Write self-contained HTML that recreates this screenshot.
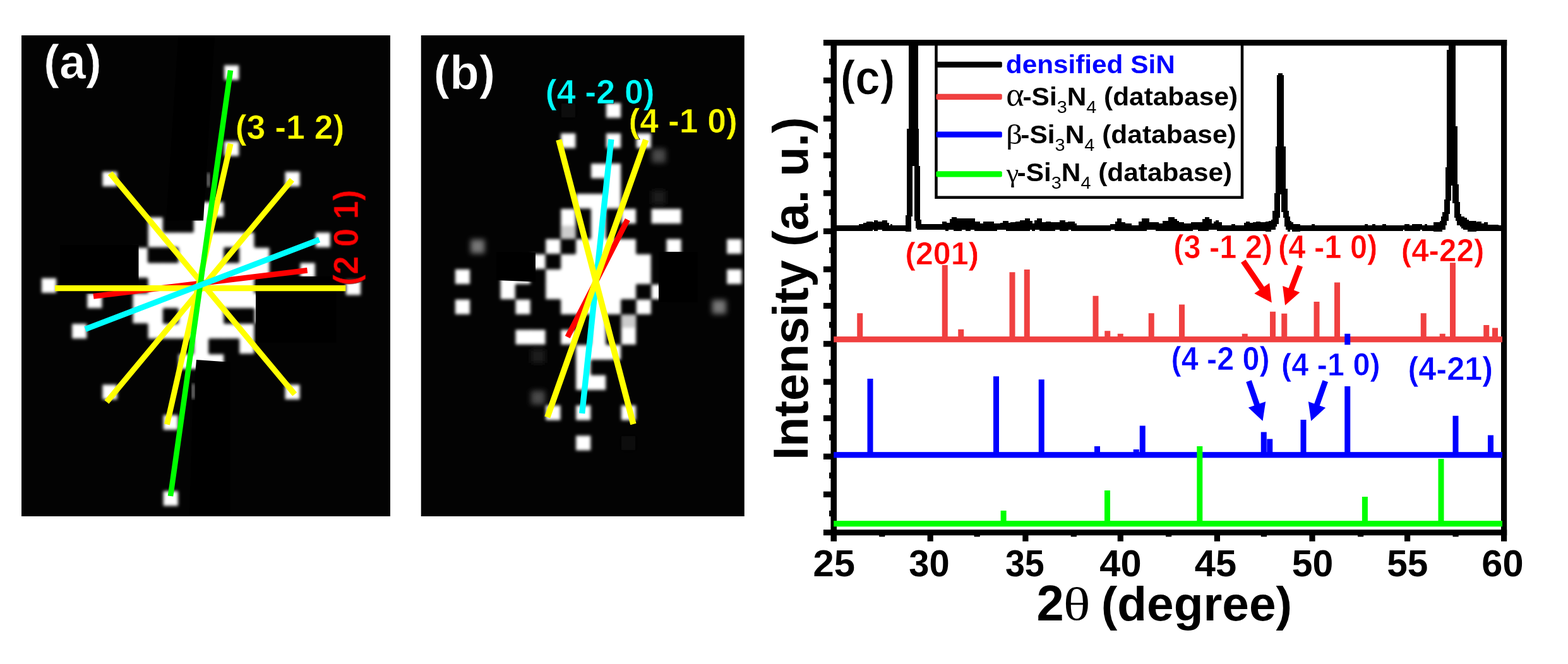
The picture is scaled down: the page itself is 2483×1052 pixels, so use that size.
<!DOCTYPE html>
<html><head><meta charset="utf-8"><title>Figure</title>
<style>html,body{margin:0;padding:0;background:#fff;overflow:hidden}svg{display:block}</style></head>
<body><svg width="2483" height="1052" viewBox="0 0 2483 1052">
<rect width="2483" height="1052" fill="#fff"/>
<defs><filter id="bl" x="-5%" y="-5%" width="110%" height="110%"><feGaussianBlur stdDeviation="2.7"/></filter><filter id="bt" x="-5%" y="-5%" width="110%" height="110%"><feGaussianBlur stdDeviation="0.7"/></filter><filter id="bd" x="-5%" y="-5%" width="110%" height="110%"><feGaussianBlur stdDeviation="4.5"/></filter><clipPath id="ca"><rect x="34" y="56" width="584" height="762"/></clipPath><clipPath id="cb"><rect x="666.75" y="56" width="512" height="762"/></clipPath></defs>
<g id="panelA">
<rect x="34" y="56" width="584" height="762" fill="#030303"/>
<g clip-path="url(#ca)"><g fill="#fff" filter="url(#bl)"><rect x="355.1" y="103.4" width="23.2" height="23.2"/><rect x="355.1" y="223.9" width="23.2" height="23.2"/><rect x="162.3" y="272.1" width="23.2" height="23.2"/><rect x="451.5" y="272.1" width="23.2" height="23.2"/><rect x="499.7" y="368.5" width="23.2" height="23.2"/><rect x="475.6" y="416.7" width="23.2" height="23.2"/><rect x="65.9" y="440.8" width="23.2" height="23.2"/><rect x="547.9" y="444.2" width="23.2" height="23.2"/><rect x="138.2" y="464.9" width="23.2" height="23.2"/><rect x="114.1" y="513.1" width="23.2" height="23.2"/><rect x="162.3" y="609.5" width="23.2" height="23.2"/><rect x="451.5" y="609.5" width="23.2" height="23.2"/><rect x="258.7" y="657.7" width="23.2" height="23.2"/><rect x="258.7" y="778.2" width="23.2" height="23.2"/><rect x="282.8" y="320.3" width="24.3" height="23.2"/><rect x="305.8" y="320.3" width="25.3" height="24.3"/><rect x="329.9" y="320.3" width="24.3" height="23.2"/><rect x="234.6" y="344.4" width="23.2" height="24.3"/><rect x="306.9" y="343.3" width="23.2" height="25.3"/><rect x="234.6" y="367.4" width="24.2" height="24.3"/><rect x="257.6" y="368.5" width="25.3" height="23.2"/><rect x="281.7" y="368.5" width="25.3" height="24.3"/><rect x="305.8" y="367.4" width="25.3" height="25.3"/><rect x="329.9" y="368.5" width="25.3" height="24.3"/><rect x="354.1" y="368.5" width="25.3" height="23.2"/><rect x="378.1" y="368.5" width="24.3" height="24.3"/><rect x="210.5" y="392.6" width="23.2" height="24.3"/><rect x="282.8" y="391.6" width="24.3" height="25.3"/><rect x="305.8" y="391.6" width="25.3" height="25.3"/><rect x="329.9" y="391.6" width="24.3" height="25.3"/><rect x="379.2" y="391.6" width="24.3" height="25.3"/><rect x="402.2" y="392.6" width="24.3" height="24.3"/><rect x="210.5" y="415.6" width="24.2" height="24.3"/><rect x="233.6" y="416.7" width="25.3" height="24.3"/><rect x="257.6" y="416.7" width="25.3" height="24.3"/><rect x="281.7" y="415.6" width="25.3" height="25.3"/><rect x="305.8" y="415.6" width="25.3" height="25.3"/><rect x="329.9" y="415.6" width="25.3" height="25.3"/><rect x="354.1" y="416.7" width="25.3" height="24.3"/><rect x="378.1" y="415.6" width="25.3" height="25.3"/><rect x="402.2" y="415.6" width="24.3" height="24.3"/><rect x="234.6" y="439.8" width="24.2" height="25.3"/><rect x="257.6" y="439.8" width="25.3" height="25.3"/><rect x="281.7" y="439.8" width="25.3" height="25.3"/><rect x="305.8" y="439.8" width="25.3" height="25.3"/><rect x="329.9" y="439.8" width="25.3" height="25.3"/><rect x="354.1" y="439.8" width="25.3" height="25.3"/><rect x="378.1" y="439.8" width="24.3" height="25.3"/><rect x="210.5" y="464.9" width="24.2" height="24.3"/><rect x="233.6" y="463.8" width="25.3" height="25.3"/><rect x="257.6" y="463.8" width="25.3" height="24.3"/><rect x="281.7" y="463.8" width="25.3" height="25.3"/><rect x="305.8" y="463.8" width="25.3" height="25.3"/><rect x="329.9" y="463.8" width="25.3" height="25.3"/><rect x="354.1" y="463.8" width="25.3" height="24.3"/><rect x="378.1" y="463.8" width="25.3" height="24.3"/><rect x="402.2" y="464.9" width="24.3" height="24.3"/><rect x="210.5" y="487.9" width="24.2" height="24.3"/><rect x="233.6" y="487.9" width="24.2" height="25.3"/><rect x="282.8" y="487.9" width="24.3" height="25.3"/><rect x="305.8" y="487.9" width="25.3" height="25.3"/><rect x="329.9" y="487.9" width="24.3" height="25.3"/><rect x="403.3" y="487.9" width="23.2" height="24.3"/><rect x="234.6" y="512.1" width="24.2" height="24.2"/><rect x="257.6" y="513.1" width="25.3" height="23.2"/><rect x="281.7" y="512.1" width="25.3" height="24.2"/><rect x="305.8" y="512.1" width="25.3" height="25.3"/><rect x="329.9" y="512.1" width="25.3" height="24.2"/><rect x="354.1" y="513.1" width="25.3" height="23.2"/><rect x="378.1" y="513.1" width="24.3" height="24.2"/><rect x="306.9" y="536.1" width="23.2" height="25.3"/><rect x="379.2" y="536.1" width="23.2" height="24.2"/><rect x="282.8" y="561.3" width="24.3" height="23.2"/><rect x="305.8" y="560.3" width="25.3" height="24.2"/><rect x="329.9" y="561.3" width="24.3" height="23.2"/></g>
<g fill="#000">
<polygon points="282.5,55 340,57 322,349.5 263,349.5"/>
<rect x="95" y="388" width="124.5" height="77"/>
<rect x="405" y="438" width="127.5" height="105"/>
<polygon points="311,570 353,573 365,573 365,817 300,817 305,640"/>
</g>
<rect x="328" y="274" width="4" height="22" fill="#999" filter="url(#bl)"/>
<rect x="304" y="608" width="4" height="24" fill="#999" filter="url(#bl)"/>
</g>
<g filter="url(#bt)">
<line x1="486.6" y1="428.3" x2="148" y2="469.3" stroke="#f00" stroke-width="8.8"/>
<line x1="87.1" y1="456.7" x2="547.4" y2="456.7" stroke="#ff0" stroke-width="9.3"/>
<line x1="174.5" y1="274.5" x2="466.7" y2="624.7" stroke="#ff0" stroke-width="9"/>
<line x1="462.4" y1="284.9" x2="168.9" y2="636.8" stroke="#ff0" stroke-width="9"/>
<line x1="365.1" y1="227.8" x2="264.5" y2="672.5" stroke="#ff0" stroke-width="9"/>
<line x1="365" y1="111.5" x2="270" y2="786" stroke="#0f0" stroke-width="8.6"/>
<line x1="505.6" y1="379.8" x2="135" y2="521.5" stroke="#0ff" stroke-width="9"/>
</g>
<text transform="translate(68.88,124.25) scale(0.9941,1)" font-size="75.76" font-family="Liberation Sans, sans-serif" font-weight="bold" stroke="#030303" stroke-width="0.013em" fill="#fff" filter="url(#bt)">(a)</text>
<text transform="translate(372.79,219.79) scale(1.0001,1)" font-size="53.53" font-family="Liberation Sans, sans-serif" font-weight="bold" stroke="#030303" stroke-width="0.013em" fill="#ff0" filter="url(#bt)">(3 -1 2)</text>
<text transform="translate(527.5,449.2) rotate(-90) translate(-3.15,39.37) scale(0.9601,1)" font-size="54.67" font-family="Liberation Sans, sans-serif" font-weight="bold" stroke="#030303" stroke-width="0.013em" fill="#f00" filter="url(#bt)">(2 0 1)</text>
</g>
<g id="panelB">
<rect x="666.75" y="56" width="512" height="762" fill="#030303"/>
<g clip-path="url(#cb)"><g filter="url(#bd)"><rect x="1032.2" y="235.8" width="22" height="22" fill="#484848"/><rect x="841.0" y="619.0" width="22" height="22" fill="#484848"/><rect x="745.4" y="379.5" width="22" height="22" fill="#777"/><rect x="1127.8" y="475.3" width="22" height="22" fill="#777"/><rect x="1032.2" y="301.7" width="22" height="22" fill="#1c1c1c"/><rect x="841.0" y="553.2" width="22" height="22" fill="#1c1c1c"/><rect x="888.8" y="164.0" width="22" height="22" fill="#0d0d0d"/><rect x="984.4" y="690.9" width="22" height="22" fill="#0d0d0d"/></g></g>
<g clip-path="url(#cb)"><g fill="#fff" filter="url(#bl)"><rect x="959.9" y="163.4" width="23.2" height="23.2"/><rect x="888.2" y="211.3" width="23.2" height="23.2"/><rect x="959.9" y="211.3" width="23.2" height="23.2"/><rect x="1007.7" y="211.3" width="23.2" height="23.2"/><rect x="936.0" y="259.2" width="24.2" height="23.2"/><rect x="958.9" y="259.2" width="24.2" height="24.2"/><rect x="959.9" y="282.2" width="23.2" height="25.1"/><rect x="912.1" y="307.1" width="24.2" height="23.2"/><rect x="935.0" y="307.1" width="25.1" height="24.2"/><rect x="958.9" y="306.1" width="24.2" height="24.2"/><rect x="888.2" y="331.0" width="23.2" height="24.2"/><rect x="936.0" y="330.1" width="23.2" height="25.1"/><rect x="983.8" y="331.0" width="23.2" height="23.2"/><rect x="1031.6" y="331.0" width="24.1" height="23.2"/><rect x="1054.5" y="331.0" width="24.1" height="23.2"/><rect x="888.2" y="354.1" width="23.2" height="24.2"/><rect x="936.0" y="354.1" width="23.2" height="25.1"/><rect x="864.3" y="378.9" width="23.2" height="23.2"/><rect x="912.1" y="378.9" width="24.2" height="24.2"/><rect x="935.0" y="378.0" width="25.1" height="25.1"/><rect x="958.9" y="378.9" width="25.1" height="24.2"/><rect x="982.8" y="378.9" width="24.2" height="24.2"/><rect x="1055.5" y="378.9" width="23.2" height="23.2"/><rect x="1151.1" y="378.9" width="23.2" height="23.2"/><rect x="840.4" y="402.9" width="23.2" height="23.2"/><rect x="888.2" y="402.9" width="24.2" height="24.2"/><rect x="911.1" y="401.9" width="25.1" height="25.1"/><rect x="935.0" y="401.9" width="25.1" height="25.1"/><rect x="958.9" y="401.9" width="25.1" height="25.1"/><rect x="982.8" y="401.9" width="25.1" height="25.1"/><rect x="1006.7" y="402.9" width="24.1" height="24.2"/><rect x="720.9" y="426.8" width="23.2" height="23.2"/><rect x="792.6" y="426.8" width="24.2" height="24.2"/><rect x="815.5" y="426.8" width="24.2" height="23.2"/><rect x="864.3" y="426.8" width="24.2" height="24.2"/><rect x="887.2" y="425.9" width="25.1" height="25.1"/><rect x="911.1" y="425.9" width="25.1" height="25.1"/><rect x="935.0" y="425.9" width="25.1" height="25.1"/><rect x="958.9" y="425.9" width="25.1" height="25.1"/><rect x="982.8" y="425.9" width="25.1" height="25.1"/><rect x="1006.7" y="425.9" width="24.1" height="24.2"/><rect x="1151.1" y="426.8" width="23.2" height="23.2"/><rect x="792.6" y="449.8" width="23.2" height="24.2"/><rect x="864.3" y="449.8" width="24.2" height="24.2"/><rect x="887.2" y="449.8" width="25.1" height="25.1"/><rect x="911.1" y="449.8" width="25.1" height="25.1"/><rect x="935.0" y="449.8" width="25.1" height="25.1"/><rect x="958.9" y="449.8" width="25.1" height="25.1"/><rect x="982.8" y="449.8" width="24.2" height="24.2"/><rect x="1031.6" y="450.8" width="23.2" height="23.2"/><rect x="720.9" y="474.7" width="23.2" height="23.2"/><rect x="816.5" y="474.7" width="23.2" height="23.2"/><rect x="888.2" y="473.8" width="24.2" height="24.2"/><rect x="911.1" y="473.8" width="25.1" height="24.2"/><rect x="935.0" y="473.8" width="25.1" height="25.1"/><rect x="958.9" y="473.8" width="24.2" height="24.2"/><rect x="1007.7" y="474.7" width="23.2" height="23.2"/><rect x="936.0" y="497.8" width="23.2" height="25.1"/><rect x="983.8" y="498.7" width="23.2" height="24.2"/><rect x="816.5" y="522.6" width="24.2" height="23.2"/><rect x="839.4" y="522.6" width="24.2" height="23.2"/><rect x="888.2" y="522.6" width="23.2" height="23.2"/><rect x="936.0" y="521.7" width="23.2" height="25.1"/><rect x="983.8" y="521.7" width="23.2" height="24.2"/><rect x="912.1" y="546.6" width="24.2" height="24.2"/><rect x="935.0" y="545.6" width="25.1" height="24.2"/><rect x="958.9" y="546.6" width="24.2" height="23.2"/><rect x="912.1" y="569.6" width="23.2" height="25.1"/><rect x="912.1" y="593.5" width="24.2" height="24.2"/><rect x="935.0" y="594.5" width="24.2" height="23.2"/><rect x="864.3" y="642.4" width="23.2" height="23.2"/><rect x="912.1" y="642.4" width="23.2" height="23.2"/><rect x="983.8" y="642.4" width="23.2" height="23.2"/><rect x="912.1" y="690.3" width="23.2" height="23.2"/></g>
<g fill="#000" fill-opacity="0.2" filter="url(#bl)"><rect x="887.8" y="357.6" width="24" height="21"/><rect x="983.4" y="498.3" width="24" height="21"/></g>
<g fill="#000">
<rect x="1043" y="399" width="62" height="80"/>
<polygon points="786,399 848,400 848,446.4 786,443.9"/>
</g>
</g>
<g filter="url(#bt)">
<line x1="993.75" y1="348" x2="898.75" y2="534" stroke="#f00" stroke-width="8.8"/>
<line x1="967.9" y1="220.7" x2="921.7" y2="655.1" stroke="#0ff" stroke-width="9.3"/>
<line x1="884.9" y1="221.5" x2="1002.9" y2="672" stroke="#ff0" stroke-width="9.5"/>
<line x1="1022.7" y1="221.5" x2="866.8" y2="661" stroke="#ff0" stroke-width="9.5"/>
</g>
<text transform="translate(686.40,140.78) scale(1.0084,1)" font-size="76.09" font-family="Liberation Sans, sans-serif" font-weight="bold" stroke="#030303" stroke-width="0.013em" fill="#fff" filter="url(#bt)">(b)</text>
<text transform="translate(863.78,163.54) scale(1.0016,1)" font-size="53.53" font-family="Liberation Sans, sans-serif" font-weight="bold" stroke="#030303" stroke-width="0.013em" fill="#0ff" filter="url(#bt)">(4 -2 0)</text>
<text transform="translate(995.54,209.90) scale(1.0088,1)" font-size="52.99" font-family="Liberation Sans, sans-serif" font-weight="bold" stroke="#030303" stroke-width="0.013em" fill="#ff0" filter="url(#bt)">(4 -1 0)</text>
</g>
<g id="chartC">
<rect x="1482.5" y="67.75" width="484.5" height="245.0" fill="none" stroke="#000" stroke-width="4.5"/>
<g fill="#000"><rect x="1315.5" y="63" width="9.5" height="794.7"/><rect x="2377" y="63" width="9.2" height="794.7"/><rect x="1303.9" y="63" width="1082.3" height="9.3"/><rect x="1303.9" y="839.1" width="1082.3" height="9.15"/><rect x="1303.9" y="122.80" width="14" height="9.3"/><rect x="1303.9" y="183.25" width="14" height="9.3"/><rect x="1303.9" y="241.40" width="14" height="9.3"/><rect x="1303.9" y="301.35" width="14" height="9.3"/><rect x="1303.9" y="361.75" width="14" height="9.3"/><rect x="1303.9" y="422.05" width="14" height="9.3"/><rect x="1303.9" y="479.85" width="14" height="9.3"/><rect x="1303.9" y="540.15" width="14" height="9.3"/><rect x="1303.9" y="600.35" width="14" height="9.3"/><rect x="1303.9" y="657.95" width="14" height="9.3"/><rect x="1303.9" y="718.65" width="14" height="9.3"/><rect x="1303.9" y="778.65" width="14" height="9.3"/><rect x="1313" y="92.95" width="5" height="9.3"/><rect x="1313" y="153.25" width="5" height="9.3"/><rect x="1313" y="211.15" width="5" height="9.3"/><rect x="1313" y="271.25" width="5" height="9.3"/><rect x="1313" y="331.35" width="5" height="9.3"/><rect x="1313" y="391.75" width="5" height="9.3"/><rect x="1313" y="449.65" width="5" height="9.3"/><rect x="1313" y="510.05" width="5" height="9.3"/><rect x="1313" y="570.15" width="5" height="9.3"/><rect x="1313" y="630.35" width="5" height="9.3"/><rect x="1313" y="688.35" width="5" height="9.3"/><rect x="1313" y="748.65" width="5" height="9.3"/><rect x="1313" y="808.85" width="5" height="9.3"/><rect x="1468.60" y="845" width="9.2" height="12.7"/><rect x="1619.30" y="845" width="9.2" height="12.7"/><rect x="1769.70" y="845" width="9.2" height="12.7"/><rect x="1922.80" y="845" width="9.2" height="12.7"/><rect x="2073.40" y="845" width="9.2" height="12.7"/><rect x="2224.00" y="845" width="9.2" height="12.7"/><rect x="1392.15" y="845" width="9.2" height="5.4"/><rect x="1542.60" y="845" width="9.2" height="5.4"/><rect x="1695.70" y="845" width="9.2" height="5.4"/><rect x="1846.00" y="845" width="9.2" height="5.4"/><rect x="1996.80" y="845" width="9.2" height="5.4"/><rect x="2150.00" y="845" width="9.2" height="5.4"/><rect x="2300.50" y="845" width="9.2" height="5.4"/></g>
<g fill="#f04040"><rect x="1320.2" y="533.1" width="1058.8" height="9.2"/><rect x="1357.25" y="496.25" width="9" height="41.450000000000045"/><rect x="1491.75" y="420" width="9" height="117.70000000000005"/><rect x="1517.25" y="521.75" width="9" height="15.950000000000045"/><rect x="1598.50" y="431.25" width="9" height="106.45000000000005"/><rect x="1621.75" y="427" width="9" height="110.70000000000005"/><rect x="1730.50" y="468.75" width="9" height="68.95000000000005"/><rect x="1749.25" y="524.25" width="9" height="13.450000000000045"/><rect x="1769.75" y="528.75" width="9" height="8.950000000000045"/><rect x="1818.75" y="496.25" width="9" height="41.450000000000045"/><rect x="1867.00" y="482.5" width="9" height="55.200000000000045"/><rect x="1966.75" y="528.75" width="9" height="8.950000000000045"/><rect x="2011.00" y="493.75" width="9" height="43.950000000000045"/><rect x="2029.25" y="496.75" width="9" height="40.950000000000045"/><rect x="2080.50" y="478" width="9" height="59.700000000000045"/><rect x="2113.00" y="447.5" width="9" height="90.20000000000005"/><rect x="2249.75" y="496.25" width="9" height="41.450000000000045"/><rect x="2279.75" y="528.75" width="9" height="8.950000000000045"/><rect x="2296.00" y="416.25" width="9" height="121.45000000000005"/><rect x="2349.25" y="515" width="9" height="22.700000000000045"/><rect x="2363.00" y="519.5" width="9" height="18.200000000000045"/></g>
<g fill="#0000ff"><rect x="1320.2" y="716.15" width="1058.8" height="9.2"/><rect x="1373.50" y="600" width="9" height="120.75"/><rect x="1573.00" y="596.25" width="9" height="124.5"/><rect x="1644.75" y="601.25" width="9" height="119.5"/><rect x="1733.00" y="707" width="9" height="13.75"/><rect x="1794.75" y="712" width="9" height="8.75"/><rect x="1804.75" y="674.5" width="9" height="46.25"/><rect x="1996.75" y="684.5" width="9" height="36.25"/><rect x="2006.25" y="695.5" width="9" height="25.25"/><rect x="2059.50" y="665" width="9" height="55.75"/><rect x="2129.25" y="612" width="9" height="108.75"/><rect x="2300.50" y="658.75" width="9" height="62.0"/><rect x="2356.00" y="689.5" width="9" height="31.25"/></g>
<g fill="#00ff00"><rect x="1320.2" y="825.1" width="1058.8" height="9.2"/><rect x="1584.60" y="809" width="9" height="20.700000000000045"/><rect x="1749.00" y="777" width="9" height="52.700000000000045"/><rect x="1895.30" y="707" width="9" height="122.70000000000005"/><rect x="2156.90" y="787" width="9" height="42.700000000000045"/><rect x="2277.50" y="727" width="9" height="102.70000000000005"/></g>
<rect x="2129.25" y="528.75" width="9" height="17.5" fill="#00f"/>
<clipPath id="cc"><rect x="1316" y="63" width="1070" height="790"/></clipPath>
<g clip-path="url(#cc)" shape-rendering="crispEdges"><g fill="#000"><rect x="1310.0" y="357.2" width="51.0" height="8.7"/><rect x="1360.0" y="355.0" width="7.5" height="10.9"/><rect x="1366.5" y="352.8" width="6.4" height="13.0"/><rect x="1372.0" y="350.7" width="9.7" height="15.2"/><rect x="1380.7" y="351.7" width="4.3" height="12.0"/><rect x="1383.9" y="348.5" width="6.4" height="17.4"/><rect x="1389.4" y="350.7" width="8.6" height="13.0"/><rect x="1397.0" y="348.5" width="7.5" height="17.4"/><rect x="1403.5" y="352.8" width="4.3" height="13.0"/><rect x="1406.8" y="357.2" width="4.3" height="8.7"/><rect x="1410.0" y="355.0" width="3.2" height="10.9"/><rect x="1412.2" y="357.2" width="23.8" height="8.7"/><rect x="1457.9" y="354.6" width="34.7" height="9.1"/><rect x="1491.6" y="350.7" width="6.4" height="13.0"/><rect x="1497.0" y="350.7" width="2.1" height="15.2"/><rect x="1498.1" y="352.8" width="4.3" height="13.0"/><rect x="1501.4" y="352.8" width="3.2" height="10.9"/><rect x="1503.6" y="347.4" width="4.3" height="16.3"/><rect x="1506.8" y="343.5" width="4.3" height="20.2"/><rect x="1510.1" y="343.5" width="5.3" height="22.4"/><rect x="1514.4" y="346.3" width="8.6" height="19.6"/><rect x="1522.0" y="345.7" width="7.5" height="18.1"/><rect x="1528.6" y="345.7" width="8.6" height="20.2"/><rect x="1536.2" y="345.7" width="7.5" height="18.1"/><rect x="1542.7" y="350.7" width="9.7" height="15.2"/><rect x="1551.4" y="353.9" width="6.4" height="12.0"/><rect x="1556.8" y="350.7" width="17.3" height="15.2"/><rect x="1573.2" y="354.4" width="5.3" height="11.5"/><rect x="1577.5" y="354.4" width="7.5" height="9.4"/><rect x="1584.0" y="352.8" width="5.3" height="10.9"/><rect x="1588.4" y="350.0" width="5.3" height="13.7"/><rect x="1592.7" y="350.0" width="4.3" height="15.9"/><rect x="1596.0" y="352.8" width="5.3" height="13.0"/><rect x="1600.3" y="351.7" width="8.6" height="14.1"/><rect x="1608.0" y="350.7" width="7.5" height="15.2"/><rect x="1614.5" y="348.5" width="9.7" height="17.4"/><rect x="1623.2" y="345.7" width="7.5" height="20.2"/><rect x="1629.7" y="349.6" width="5.3" height="14.1"/><rect x="1634.1" y="353.5" width="5.3" height="12.4"/><rect x="1638.4" y="348.5" width="4.3" height="15.2"/><rect x="1641.7" y="346.3" width="5.3" height="17.4"/><rect x="1646.0" y="346.3" width="4.3" height="19.6"/><rect x="1649.3" y="351.7" width="7.5" height="14.1"/><rect x="1655.8" y="350.7" width="8.6" height="15.2"/><rect x="1663.4" y="351.7" width="7.5" height="14.1"/><rect x="1669.9" y="351.7" width="8.6" height="12.0"/><rect x="1677.6" y="348.5" width="9.7" height="17.4"/><rect x="1686.3" y="351.7" width="5.3" height="14.1"/><rect x="1690.6" y="350.7" width="6.4" height="13.0"/><rect x="1696.0" y="350.7" width="6.4" height="15.2"/><rect x="1701.5" y="353.9" width="3.2" height="12.0"/><rect x="1703.6" y="357.2" width="55.4" height="8.7"/><rect x="1758.0" y="355.0" width="7.5" height="8.7"/><rect x="1764.5" y="355.0" width="2.1" height="10.9"/><rect x="1765.6" y="350.7" width="4.3" height="15.2"/><rect x="1768.9" y="345.7" width="7.5" height="20.2"/><rect x="1775.4" y="351.7" width="6.4" height="14.1"/><rect x="1780.9" y="354.4" width="10.8" height="11.5"/><rect x="1790.6" y="357.2" width="13.0" height="8.7"/><rect x="1802.6" y="350.7" width="6.4" height="15.2"/><rect x="1808.0" y="345.7" width="7.5" height="20.2"/><rect x="1814.6" y="345.7" width="5.3" height="18.1"/><rect x="1818.9" y="351.7" width="11.9" height="12.0"/><rect x="1829.8" y="351.7" width="5.3" height="14.1"/><rect x="1834.1" y="353.9" width="7.5" height="12.0"/><rect x="1840.7" y="349.6" width="10.6" height="16.3"/><rect x="1850.0" y="343.5" width="9.7" height="22.4"/><rect x="1858.7" y="347.4" width="5.3" height="18.5"/><rect x="1863.0" y="349.6" width="4.3" height="16.3"/><rect x="1866.3" y="351.7" width="8.6" height="14.1"/><rect x="1873.9" y="354.4" width="13.0" height="11.5"/><rect x="1885.9" y="352.4" width="3.2" height="13.5"/><rect x="1888.1" y="352.4" width="9.7" height="11.3"/><rect x="1896.8" y="352.4" width="8.6" height="13.5"/><rect x="1904.4" y="347.4" width="4.3" height="18.5"/><rect x="1907.6" y="343.5" width="6.4" height="22.4"/><rect x="1913.1" y="343.5" width="2.1" height="20.2"/><rect x="1914.2" y="347.4" width="4.3" height="16.3"/><rect x="1917.4" y="354.4" width="5.3" height="9.4"/><rect x="1921.8" y="350.7" width="4.3" height="13.0"/><rect x="1925.0" y="348.5" width="3.2" height="15.2"/><rect x="1927.2" y="348.5" width="3.2" height="17.4"/><rect x="1929.4" y="351.7" width="5.3" height="14.1"/><rect x="1933.7" y="357.2" width="17.3" height="8.7"/><rect x="1950.0" y="355.0" width="6.4" height="10.9"/><rect x="1955.5" y="357.2" width="15.1" height="8.7"/><rect x="1969.6" y="352.8" width="4.3" height="13.0"/><rect x="1972.9" y="350.7" width="6.4" height="15.2"/><rect x="1978.3" y="352.8" width="6.4" height="13.0"/><rect x="1983.8" y="351.7" width="6.4" height="14.1"/><rect x="1989.2" y="350.7" width="6.4" height="15.2"/><rect x="1994.6" y="352.4" width="10.8" height="13.5"/><rect x="2004.4" y="350.7" width="9.7" height="15.2"/><rect x="2013.1" y="349.6" width="11.9" height="16.3"/><rect x="2045.7" y="357.2" width="32.5" height="8.7"/><rect x="2077.3" y="355.0" width="4.3" height="10.9"/><rect x="2080.5" y="357.2" width="81.5" height="8.7"/><rect x="2161.0" y="355.0" width="5.3" height="10.9"/><rect x="2165.4" y="357.2" width="8.6" height="8.7"/><rect x="2173.0" y="355.0" width="5.3" height="10.9"/><rect x="2177.3" y="357.2" width="13.0" height="8.7"/><rect x="2189.3" y="355.0" width="5.3" height="10.9"/><rect x="2193.6" y="357.2" width="28.2" height="8.7"/><rect x="2220.8" y="357.2" width="4.3" height="6.5"/><rect x="2224.1" y="355.0" width="7.5" height="10.9"/><rect x="2230.6" y="357.2" width="6.4" height="8.7"/><rect x="2236.0" y="355.0" width="13.0" height="10.9"/><rect x="2248.0" y="355.0" width="4.3" height="8.7"/><rect x="2251.3" y="357.2" width="2.1" height="6.5"/><rect x="2252.3" y="357.2" width="4.3" height="8.7"/><rect x="2255.6" y="355.0" width="4.3" height="10.9"/><rect x="2258.9" y="357.2" width="13.0" height="8.7"/><rect x="2313.2" y="352.2" width="11.9" height="13.7"/><rect x="2324.1" y="352.2" width="16.2" height="13.7"/><rect x="2339.3" y="350.7" width="6.4" height="15.2"/><rect x="2344.8" y="353.5" width="6.4" height="12.4"/><rect x="2350.2" y="352.2" width="5.3" height="13.7"/><rect x="2354.6" y="356.1" width="18.4" height="9.8"/><rect x="2372.0" y="357.2" width="8.6" height="8.7"/>
<rect x="1438.70" y="60.00" width="15.70" height="145.00"/><rect x="1436.10" y="204.00" width="19.20" height="60.00"/><rect x="1436.10" y="263.00" width="20.60" height="78.90"/><rect x="1433.90" y="340.90" width="22.80" height="7.90"/><rect x="1433.90" y="347.80" width="25.10" height="7.80"/><rect x="1433.90" y="354.60" width="25.10" height="12.40"/>
<rect x="2024.00" y="116.30" width="7.00" height="3.70"/><rect x="2022.40" y="119.00" width="10.60" height="114.00"/><rect x="2019.90" y="232.00" width="16.20" height="67.90"/><rect x="2020.06" y="298.90" width="18.44" height="8.30"/><rect x="2017.90" y="306.20" width="20.60" height="28.80"/><rect x="2015.45" y="334.00" width="25.45" height="9.90"/><rect x="2015.45" y="342.90" width="27.65" height="5.90"/><rect x="2013.00" y="347.80" width="30.10" height="3.40"/><rect x="2008.60" y="350.20" width="36.80" height="3.00"/><rect x="2006.20" y="352.20" width="41.60" height="3.40"/><rect x="2004.00" y="354.60" width="55.10" height="3.50"/><rect x="2004.00" y="357.10" width="55.10" height="9.90"/>
<rect x="2293.75" y="60.00" width="11.25" height="19.75"/><rect x="2291.25" y="78.75" width="13.75" height="122.25"/><rect x="2291.25" y="200.00" width="16.25" height="66.00"/><rect x="2288.90" y="265.00" width="18.60" height="28.00"/><rect x="2289.10" y="292.00" width="20.40" height="24.50"/><rect x="2286.70" y="315.50" width="22.80" height="5.40"/><rect x="2286.70" y="319.90" width="25.20" height="17.10"/><rect x="2284.20" y="336.00" width="27.70" height="3.50"/><rect x="2284.20" y="338.50" width="29.90" height="5.40"/><rect x="2282.00" y="342.90" width="37.00" height="3.50"/><rect x="2282.00" y="345.40" width="41.40" height="3.40"/><rect x="2282.00" y="347.80" width="43.90" height="3.40"/><rect x="2279.80" y="350.20" width="57.80" height="3.00"/><rect x="2270.30" y="352.20" width="67.70" height="5.90"/><rect x="2270.00" y="357.10" width="68.00" height="9.90"/>
</g><g fill="#fff">
<rect x="1445.00" y="263.00" width="2.80" height="81.00"/><rect x="1443.00" y="343.00" width="4.80" height="7.80"/><rect x="1443.00" y="349.80" width="7.10" height="12.70"/><rect x="1443.00" y="361.50" width="9.30" height="3.40"/><rect x="1443.00" y="363.90" width="49.00" height="3.50"/>
<rect x="2027.00" y="308.20" width="2.20" height="28.80"/><rect x="2027.00" y="336.00" width="4.60" height="10.40"/><rect x="2024.70" y="345.40" width="9.30" height="10.20"/><rect x="2022.30" y="354.60" width="11.70" height="5.50"/><rect x="2020.06" y="359.10" width="16.14" height="5.80"/><rect x="2013.00" y="363.90" width="25.50" height="3.50"/><rect x="2043.00" y="363.90" width="2.70" height="3.50"/>
<rect x="2298.00" y="294.00" width="2.40" height="24.50"/><rect x="2296.00" y="317.50" width="4.40" height="5.40"/><rect x="2296.00" y="321.90" width="6.80" height="17.60"/><rect x="2293.50" y="338.50" width="9.30" height="7.90"/><rect x="2293.50" y="345.40" width="11.75" height="5.80"/><rect x="2291.10" y="350.20" width="16.20" height="7.90"/><rect x="2289.10" y="357.10" width="23.00" height="3.00"/><rect x="2289.10" y="359.10" width="25.00" height="3.40"/><rect x="2289.10" y="361.50" width="27.50" height="3.40"/><rect x="2284.20" y="363.90" width="39.60" height="3.50"/>
</g></g>
<rect x="1482.4" y="97.65" width="104.4" height="9.3" rx="2.2" fill="#000"/>
<rect x="1482.4" y="148.65" width="104.4" height="9.3" rx="2.2" fill="#f04040"/>
<rect x="1482.4" y="208.55" width="104.4" height="9.3" rx="2.2" fill="#00f"/>
<rect x="1482.4" y="271.15" width="104.4" height="9.3" rx="2.2" fill="#0f0"/>
<text transform="translate(1592.81,115.60) scale(1.0192,1)" font-size="41.50" font-family="Liberation Sans, sans-serif" font-weight="bold" fill="#00f" >densified SiN</text>
<text transform="translate(1593.23,167.07) scale(1.0190,1)" font-size="53.33" font-family="Liberation Serif, serif" fill="#000" >α</text>
<text transform="translate(1619.50,167.00) scale(1.0214,1)" font-size="41.50" font-family="Liberation Sans, sans-serif" font-weight="bold" fill="#000" >-Si<tspan style="font-size:68%" font-weight="normal" dy="0.41em">3</tspan><tspan dy="-0.279em">N</tspan><tspan style="font-size:68%" font-weight="normal" dy="0.41em">4</tspan><tspan dy="-0.279em"> (database)</tspan></text>
<text transform="translate(1592.93,227.76) scale(1.1770,1)" font-size="43.52" font-family="Liberation Serif, serif" fill="#000" >β</text>
<text transform="translate(1616.30,227.30) scale(1.0239,1)" font-size="41.50" font-family="Liberation Sans, sans-serif" font-weight="bold" fill="#000" >-Si<tspan style="font-size:68%" font-weight="normal" dy="0.41em">3</tspan><tspan dy="-0.279em">N</tspan><tspan style="font-size:68%" font-weight="normal" dy="0.41em">4</tspan><tspan dy="-0.279em"> (database)</tspan></text>
<text transform="translate(1593.70,287.83) scale(1.0485,1)" font-size="42.24" font-family="Liberation Serif, serif" fill="#000" >γ</text>
<text transform="translate(1610.60,287.10) scale(1.0214,1)" font-size="41.50" font-family="Liberation Sans, sans-serif" font-weight="bold" fill="#000" >-Si<tspan style="font-size:68%" font-weight="normal" dy="0.41em">3</tspan><tspan dy="-0.279em">N</tspan><tspan style="font-size:68%" font-weight="normal" dy="0.41em">4</tspan><tspan dy="-0.279em"> (database)</tspan></text>
<text transform="translate(1287.46,912.81) scale(1.0127,1)" font-size="59.01" font-family="Liberation Sans, sans-serif" font-weight="bold" fill="#000" >25</text>
<text transform="translate(1439.34,912.81) scale(0.9804,1)" font-size="59.01" font-family="Liberation Sans, sans-serif" font-weight="bold" fill="#000" >30</text>
<text transform="translate(1591.89,912.81) scale(0.9432,1)" font-size="59.01" font-family="Liberation Sans, sans-serif" font-weight="bold" fill="#000" >35</text>
<text transform="translate(1741.31,912.81) scale(1.0086,1)" font-size="59.01" font-family="Liberation Sans, sans-serif" font-weight="bold" fill="#000" >40</text>
<text transform="translate(1891.81,912.80) scale(0.9969,1)" font-size="59.86" font-family="Liberation Sans, sans-serif" font-weight="bold" fill="#000" >45</text>
<text transform="translate(2045.73,912.81) scale(0.9980,1)" font-size="59.01" font-family="Liberation Sans, sans-serif" font-weight="bold" fill="#000" >50</text>
<text transform="translate(2196.24,912.80) scale(0.9785,1)" font-size="59.86" font-family="Liberation Sans, sans-serif" font-weight="bold" fill="#000" >55</text>
<text transform="translate(2346.37,912.81) scale(1.0077,1)" font-size="59.01" font-family="Liberation Sans, sans-serif" font-weight="bold" fill="#000" >60</text>
<text transform="translate(1641.57,982.50) scale(0.9860,1)" font-size="78.86" font-family="Liberation Sans, sans-serif" font-weight="bold" fill="#000" >2</text>
<text transform="translate(1683.73,982.05) scale(1.1943,1)" font-size="74.93" font-family="Liberation Serif, serif" fill="#000" >θ</text>
<text transform="translate(1743.77,982.99) scale(0.9990,1)" font-size="76.70" font-family="Liberation Sans, sans-serif" font-weight="bold" fill="#000" >(degree)</text>
<text transform="translate(1222.0,723.7) rotate(-90) translate(-5.40,56.61) scale(0.9938,1)" font-size="77.55" font-family="Liberation Sans, sans-serif" font-weight="bold" fill="#000" >Intensity (a. u.)</text>
<text transform="translate(1330.74,149.39) scale(0.9391,1)" font-size="75.54" font-family="Liberation Sans, sans-serif" font-weight="bold" stroke="#fff" stroke-width="0.013em" fill="#000" >(c)</text>
<text transform="translate(1433.24,419.09) scale(0.9862,1)" font-size="50.82" font-family="Liberation Sans, sans-serif" font-weight="bold" stroke="#fff" stroke-width="0.013em" fill="#f00" >(201)</text>
<text transform="translate(1858.33,409.28) scale(0.9520,1)" font-size="51.09" font-family="Liberation Sans, sans-serif" font-weight="bold" stroke="#fff" stroke-width="0.013em" fill="#f00" >(3 -1 2)</text>
<text transform="translate(2024.07,409.28) scale(0.9551,1)" font-size="51.09" font-family="Liberation Sans, sans-serif" font-weight="bold" stroke="#fff" stroke-width="0.013em" fill="#f00" >(4 -1 0)</text>
<text transform="translate(2218.79,414.20) scale(0.9809,1)" font-size="50.27" font-family="Liberation Sans, sans-serif" font-weight="bold" stroke="#fff" stroke-width="0.013em" fill="#f00" >(4-22)</text>
<text transform="translate(1854.60,586.03) scale(0.9473,1)" font-size="51.09" font-family="Liberation Sans, sans-serif" font-weight="bold" stroke="#fff" stroke-width="0.013em" fill="#00f" >(4 -2 0)</text>
<text transform="translate(2029.09,595.34) scale(0.9555,1)" font-size="50.82" font-family="Liberation Sans, sans-serif" font-weight="bold" stroke="#fff" stroke-width="0.013em" fill="#00f" >(4 -1 0)</text>
<text transform="translate(2229.47,602.28) scale(0.9883,1)" font-size="51.09" font-family="Liberation Sans, sans-serif" font-weight="bold" stroke="#fff" stroke-width="0.013em" fill="#00f" >(4-21)</text>
<line x1="1968.75" y1="413.75" x2="1999.3" y2="458.5" stroke="#f00" stroke-width="9"/><polygon fill="#f00" points="2013.8,479.5 1986.3,465.0 2010.2,448.6"/>
<line x1="2058.75" y1="421.25" x2="2044.1" y2="459.9" stroke="#f00" stroke-width="9"/><polygon fill="#f00" points="2035.0,483.8 2031.2,452.9 2058.3,463.2"/>
<line x1="1977.5" y1="603.75" x2="1991.1" y2="642.9" stroke="#00f" stroke-width="9"/><polygon fill="#00f" points="1999.5,667.0 1976.8,645.8 2004.2,636.3"/>
<line x1="2098.75" y1="603.75" x2="2084.8" y2="643.0" stroke="#00f" stroke-width="9"/><polygon fill="#00f" points="2076.2,667.0 2071.8,636.2 2099.1,646.0"/>
</g>
</svg></body></html>
